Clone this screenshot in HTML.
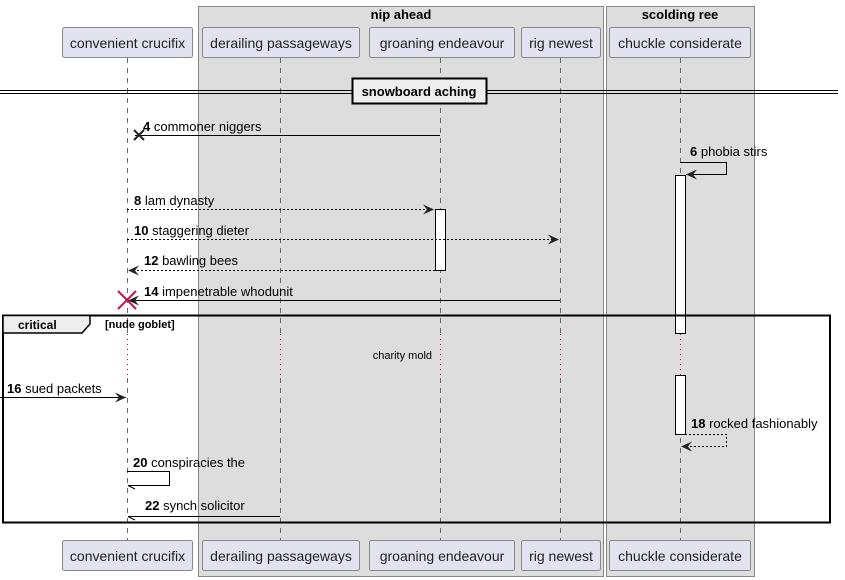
<!DOCTYPE html>
<html><head><meta charset="utf-8"><style>
html,body{margin:0;padding:0;background:#fff;}
svg{display:block;}
text{font-family:"Liberation Sans",sans-serif;}
</style></head><body>
<svg width="845" height="580" viewBox="0 0 845 580" xmlns="http://www.w3.org/2000/svg">
<defs>
<marker id="a" markerWidth="12" markerHeight="10" refX="11" refY="5" orient="auto" markerUnits="userSpaceOnUse">
<path d="M0,0 L11,5 L0,10 L4,5 Z" fill="#222"/></marker>
</defs>
<rect x="198.5" y="6.5" width="405" height="570" fill="#ddd" stroke="#888"/>
<rect x="606.5" y="6.5" width="148" height="570" fill="#ddd" stroke="#888"/>
<text x="401" y="19" font-size="13" font-weight="bold" text-anchor="middle">nip ahead</text>
<text x="680" y="19" font-size="13" font-weight="bold" text-anchor="middle">scolding ree</text>
<g stroke="#666" stroke-dasharray="5,5" stroke-width="1">
<line x1="127.5" y1="58" x2="127.5" y2="540"/>
<line x1="280.5" y1="58" x2="280.5" y2="540"/>
<line x1="440.5" y1="58" x2="440.5" y2="540"/>
<line x1="560.5" y1="58" x2="560.5" y2="540"/>
<line x1="680.5" y1="58" x2="680.5" y2="540"/>
</g>
<rect x="120" y="334" width="10" height="41" fill="#fff"/>
<rect x="270" y="334" width="300" height="41" fill="#ddd"/>
<rect x="670" y="334" width="20" height="41" fill="#ddd"/>
<g stroke="#c00040" stroke-dasharray="1,4" stroke-width="1">
<line x1="127.5" y1="334" x2="127.5" y2="375"/>
<line x1="280.5" y1="334" x2="280.5" y2="375"/>
<line x1="440.5" y1="334" x2="440.5" y2="375"/>
<line x1="560.5" y1="334" x2="560.5" y2="375"/>
<line x1="680.5" y1="334" x2="680.5" y2="375"/>
</g>
<text x="432" y="359" font-size="11" text-anchor="end">charity mold</text>
<g fill="#e2e2f0" stroke="#888" stroke-width="1">
<rect x="62.5" y="27.5" width="130" height="30" rx="2"/>
<rect x="202.5" y="27.5" width="157" height="30" rx="2"/>
<rect x="369.5" y="27.5" width="145" height="30" rx="2"/>
<rect x="521.5" y="27.5" width="79" height="30" rx="2"/>
<rect x="609.5" y="27.5" width="141" height="30" rx="2"/>
<rect x="62.5" y="540.5" width="130" height="30" rx="2"/>
<rect x="202.5" y="540.5" width="157" height="30" rx="2"/>
<rect x="369.5" y="540.5" width="145" height="30" rx="2"/>
<rect x="521.5" y="540.5" width="79" height="30" rx="2"/>
<rect x="609.5" y="540.5" width="141" height="30" rx="2"/>
</g>
<g font-size="14" text-anchor="middle" fill="#222">
<text x="127.5" y="48">convenient crucifix</text>
<text x="281" y="48">derailing passageways</text>
<text x="442" y="48">groaning endeavour</text>
<text x="561" y="48">rig newest</text>
<text x="680" y="48">chuckle considerate</text>
<text x="127.5" y="561">convenient crucifix</text>
<text x="281" y="561">derailing passageways</text>
<text x="442" y="561">groaning endeavour</text>
<text x="561" y="561">rig newest</text>
<text x="680" y="561">chuckle considerate</text>
</g>
<line x1="0" y1="90.5" x2="838" y2="90.5" stroke="#000"/>
<line x1="0" y1="93.5" x2="838" y2="93.5" stroke="#000"/>
<rect x="352.5" y="78.5" width="134" height="25" fill="#eee" stroke="#000" stroke-width="2"/>
<text x="419" y="96" font-size="13" font-weight="bold" text-anchor="middle">snowboard aching</text>
<g fill="#fff" stroke="#000">
<rect x="675.5" y="175.5" width="10" height="158"/>
<rect x="675.5" y="375.5" width="10" height="59"/>
<rect x="435.5" y="209.5" width="10" height="61"/>
</g>
<g font-size="13" fill="#000">
<line x1="440" y1="135.5" x2="135" y2="135.5" stroke="#000"/>
<path d="M134,130 L144,140 M144,130 L134,140" stroke="#222" stroke-width="2"/>
<text x="143" y="131"><tspan font-weight="bold">4</tspan> commoner niggers</text>
<polyline points="680,162.5 726.5,162.5 726.5,174.5 686,174.5" fill="none" stroke="#000" marker-end="url(#a)"/>
<text x="690" y="156"><tspan font-weight="bold">6</tspan> phobia stirs</text>
<line x1="127" y1="209.5" x2="434" y2="209.5" stroke="#000" stroke-dasharray="2,2" marker-end="url(#a)"/>
<text x="134" y="205"><tspan font-weight="bold">8</tspan> lam dynasty</text>
<line x1="127" y1="239.5" x2="559" y2="239.5" stroke="#000" stroke-dasharray="2,2" marker-end="url(#a)"/>
<text x="134" y="235"><tspan font-weight="bold">10</tspan> staggering dieter</text>
<line x1="435" y1="270.5" x2="128" y2="270.5" stroke="#000" stroke-dasharray="2,2" marker-end="url(#a)"/>
<text x="144" y="265"><tspan font-weight="bold">12</tspan> bawling bees</text>
<line x1="560" y1="300.5" x2="128" y2="300.5" stroke="#000" marker-end="url(#a)"/>
<path d="M118,291 L136,309 M136,291 L118,309" stroke="#c0134a" stroke-width="2"/>
<text x="144" y="296"><tspan font-weight="bold">14</tspan> impenetrable whodunit</text>
<rect x="3" y="315.5" width="827" height="207" fill="none" stroke="#000" stroke-width="2"/>
<path d="M3,315.5 L90,315.5 L90,324 L82,333 L3,333 Z" fill="#eee" stroke="#000" stroke-width="1.5"/>
<text x="18" y="329" font-weight="bold" font-size="12">critical</text>
<text x="105" y="328" font-weight="bold" font-size="11">[nude goblet]</text>
<line x1="0" y1="397.5" x2="126" y2="397.5" stroke="#000" marker-end="url(#a)"/>
<text x="7" y="393"><tspan font-weight="bold">16</tspan> sued packets</text>
<polyline points="685,434.5 726.5,434.5 726.5,446.5 681,446.5" fill="none" stroke="#000" stroke-dasharray="2,2" marker-end="url(#a)"/>
<text x="691" y="428"><tspan font-weight="bold">18</tspan> rocked fashionably</text>
<polyline points="127,471.5 169.5,471.5 169.5,485.5 128,485.5" fill="none" stroke="#000"/>
<line x1="128" y1="485.5" x2="135" y2="489" stroke="#000"/>
<text x="133" y="467"><tspan font-weight="bold">20</tspan> conspiracies the</text>
<line x1="280" y1="516.5" x2="128" y2="516.5" stroke="#000"/>
<line x1="128" y1="516.5" x2="135" y2="520" stroke="#000"/>
<text x="145" y="510"><tspan font-weight="bold">22</tspan> synch solicitor</text>
</g>
</svg>
</body></html>
